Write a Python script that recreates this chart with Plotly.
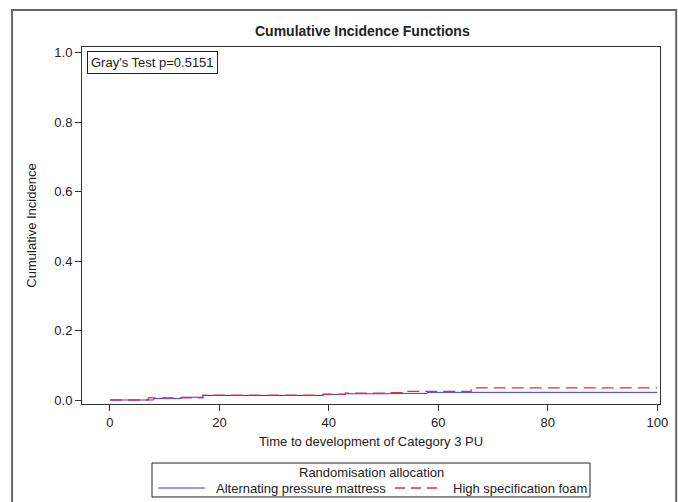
import plotly.graph_objects as go

# Alternating pressure mattress
apm_time = [0, 8, 13, 17, 39, 43, 51, 58, 100]
apm_cif = [0.0, 0.004, 0.008, 0.013, 0.016, 0.018, 0.019, 0.022, 0.022]
# High specification foam
hsf_time = [0, 7, 17, 39, 43, 51, 54, 66, 100]
hsf_cif = [0.0, 0.006, 0.014, 0.017, 0.020, 0.021, 0.025, 0.035, 0.035]

x_ticks = [0, 20, 40, 60, 80, 100]
y_ticks = [0.0, 0.2, 0.4, 0.6, 0.8, 1.0]

series_names = ["Alternating pressure mattress", "High specification foam"]
legend_title = "Randomisation allocation"

FONT = "Liberation Sans, Arial, sans-serif"
BLUE = "#3333ff"
RED = "#e0303a"
RED_DASH = "12px,6px"

fig = go.Figure()
fig.add_trace(go.Scatter(x=apm_time, y=apm_cif, mode="lines", line_shape="hv",
                         name=series_names[0],
                         line=dict(color=BLUE, width=1)))
fig.add_trace(go.Scatter(x=hsf_time, y=hsf_cif, mode="lines", line_shape="hv",
                         name=series_names[1],
                         line=dict(color=RED, width=1.3, dash=RED_DASH)))

fig.update_layout(
    width=678, height=502,
    margin=dict(l=82, r=18, t=47, b=98, autoexpand=False),
    paper_bgcolor="white", plot_bgcolor="white",
    font=dict(family=FONT, size=12, color="#222"),
    showlegend=False,
    xaxis=dict(
        range=[-5.1, 100.5], tickvals=x_ticks, ticks="outside", ticklen=6,
        tickcolor="#333", showline=True, linecolor="#333", linewidth=1,
        mirror=True, showgrid=False, zeroline=False,
        tickfont=dict(size=13),
        title=dict(text="Time to development of Category 3 PU", standoff=8,
                   font=dict(size=13)),
    ),
    yaxis=dict(
        range=[-0.0115, 1.017], tickvals=y_ticks, tickformat=".1f",
        ticks="outside", ticklen=6, tickcolor="#333", showline=True,
        linecolor="#333", linewidth=1, mirror=True, showgrid=False,
        zeroline=False, tickfont=dict(size=13),
        title=dict(text="Cumulative Incidence", standoff=14,
                   font=dict(size=13)),
    ),
)

fig.add_annotation(text="<b>Cumulative Incidence Functions</b>", xref="paper",
                   yref="paper", x=0.486, y=1.045, xanchor="center",
                   yanchor="middle", showarrow=False, font=dict(size=14))

fig.add_annotation(text="Gray's Test p=0.5151", xref="paper", yref="paper",
                   x=0.009, y=0.99, xanchor="left", yanchor="top",
                   showarrow=False, bordercolor="#222", borderwidth=1,
                   borderpad=3, bgcolor="white", font=dict(size=13))

# outer frame
fig.add_shape(type="rect", xref="paper", yref="paper",
              x0=-0.121, x1=1.028, y0=-0.4, y1=1.1036,
              line=dict(color="#666", width=2), layer="below")

# legend box (drawn manually for exact placement)
fig.add_shape(type="rect", xref="paper", yref="paper",
              x0=0.1211, x1=0.8789, y0=-0.2605, y1=-0.1653,
              line=dict(color="#222", width=1), fillcolor="white")
fig.add_annotation(text=legend_title, xref="paper", yref="paper",
                   x=0.5, y=-0.1905, xanchor="center", yanchor="middle",
                   showarrow=False, font=dict(size=13))
fig.add_shape(type="line", xref="paper", yref="paper",
              x0=0.1315, x1=0.2128, y0=-0.2353, y1=-0.2353,
              line=dict(color=BLUE, width=1))
fig.add_annotation(text=series_names[0], xref="paper", yref="paper",
                   x=0.2284, y=-0.2353, xanchor="left", yanchor="middle",
                   showarrow=False, font=dict(size=13))
fig.add_shape(type="line", xref="paper", yref="paper",
              x0=0.5415, x1=0.6163, y0=-0.2353, y1=-0.2353,
              line=dict(color=RED, width=1.3, dash="10px,6px"))
fig.add_annotation(text=series_names[1], xref="paper", yref="paper",
                   x=0.6384, y=-0.2353, xanchor="left", yanchor="middle",
                   showarrow=False, font=dict(size=13))

fig.write_html("out.html", config={"displayModeBar": False},
               post_script="document.body.style.margin='0px';document.body.style.padding='0px';")
